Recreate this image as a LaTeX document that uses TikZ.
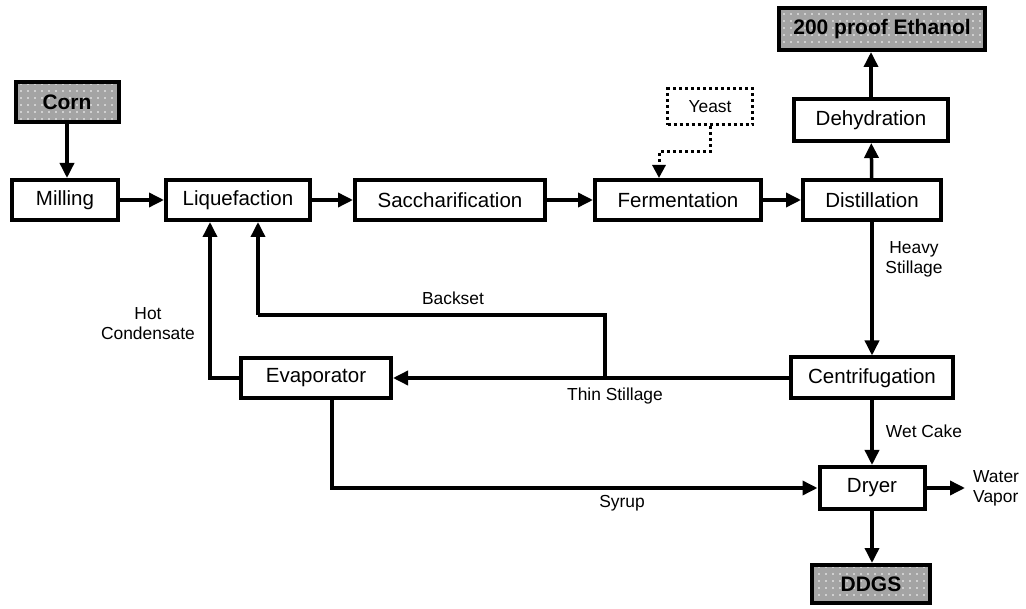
\documentclass[tikz,border=0pt]{standalone}
\usepackage{fontspec}
\setmainfont{Liberation Sans}
\usetikzlibrary{arrows.meta,patterns.meta}
\definecolor{shade}{HTML}{A4A4A4}
\tikzset{
  box/.style={draw,line width=4pt,minimum height=40pt,inner sep=0pt,font=\fontsize{20.5}{22}\selectfont,fill=white},
  outbox/.style={box,preaction={fill=shade},pattern={Dots[distance=7pt,radius=0.8pt]},pattern color=white,font=\fontsize{21}{23}\selectfont\bfseries},
  flow/.style={line width=3.5pt,-{Triangle[length=15pt,width=14pt]}},
  line/.style={line width=3.5pt},
  lbl/.style={font=\fontsize{17.4}{20}\selectfont,align=center,inner sep=0pt},
}
\begin{document}
\begin{tikzpicture}[x=1pt,y=-1pt]
\useasboundingbox (0,0) rectangle (1026,609);
% nodes
\node[outbox,minimum width=103pt] (corn) at (67,102) {Corn};
\node[box,minimum width=106pt] (milling) at (65,200) {Milling};
\node[box,minimum width=144pt] (liq) at (238,200) {Liquefaction};
\node[box,minimum width=190pt] (sacc) at (450,200) {Saccharification};
\node[box,minimum width=166pt] (ferm) at (678,200) {Fermentation};
\node[box,minimum width=138pt] (dist) at (872,200) {Distillation};
\node[box,minimum width=154pt,minimum height=42pt] (dehyd) at (871,120) {Dehydration};
\node[outbox,minimum width=206pt,minimum height=42pt] (eth) at (882,29) {200 proof Ethanol};
\node[draw,line width=3pt,dash pattern=on 3pt off 3pt,minimum width=85pt,minimum height=36pt,inner sep=0pt,font=\fontsize{17.4}{20}\selectfont] (yeast) at (710,107) {Yeast};
\node[box,minimum width=150pt] (evap) at (316,378) {Evaporator};
\node[box,minimum width=162pt,minimum height=41pt] (cent) at (872,378) {Centrifugation};
\node[box,minimum width=105pt,minimum height=42pt] (dryer) at (872,488) {Dryer};
\node[outbox,minimum width=118pt,minimum height=38pt] (ddgs) at (871,584) {DDGS};
% helper coordinates
\coordinate (yk) at (659,152);
\coordinate (bsA) at (605,378);
\coordinate (bsB) at (258,315);
\coordinate (hcx) at (210,0);
\coordinate (syx) at (332,0);
\coordinate (wv) at (965,488);
% connectors
\draw[flow] (corn.south) -- (corn.south |- milling.north);
\draw[flow] (milling) -- (liq);
\draw[flow] (liq) -- (sacc);
\draw[flow] (sacc) -- (ferm);
\draw[flow] (ferm) -- (dist);
\draw[flow] (dist) -- (dehyd);
\draw[flow] (dehyd.north) -- (dehyd.north |- eth.south);
\draw[flow] (dist) -- (cent);
\draw[flow] (cent) -- (evap);
\draw[line] (bsA) |- (bsB);
\draw[flow] (bsB) -- (bsB |- liq.south);
\draw[flow] (evap.west) -| (hcx |- liq.south);
\draw[flow] (syx |- evap.south) |- (dryer.west);
\draw[flow] (cent) -- (dryer);
\draw[flow] (dryer.east) -- (wv);
\draw[flow] (dryer.south) -- (dryer.south |- ddgs.north);
\draw[line width=3pt,dash pattern=on 3pt off 3pt,-{Triangle[length=13pt,width=13pt]}] (yeast.south) |- (yk) -- (yk |- ferm.north);
% labels
\node[lbl] (lhs) at (914,259) {Heavy\\Stillage};
\node[lbl] (lbs) at (453,298) {Backset};
\node[lbl] (lhc) at (148,324) {Hot\\Condensate};
\node[lbl] (lts) at (615,396) {Thin Stillage};
\node[lbl] (lwc) at (924,431) {Wet Cake};
\node[lbl,align=left,anchor=west] (lwv) at (973,488) {Water\\Vapor};
\node[lbl] (lsy) at (622,503) {Syrup};
\end{tikzpicture}
\end{document}
